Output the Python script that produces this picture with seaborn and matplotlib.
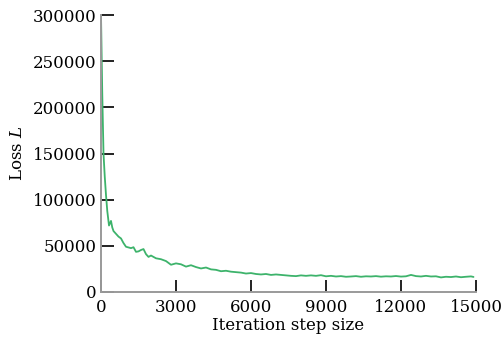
import numpy as np
import pandas as pd
import matplotlib
matplotlib.use("Agg")
import matplotlib.pyplot as plt
import seaborn as sns

# loss curve
steps = [0, 50, 100, 150, 200, 250, 320, 400, 450, 500, 600, 700, 800, 900,
         1000, 1200, 1300, 1400, 1500, 1600, 1700, 1800, 1900, 2000, 2200,
         2400, 2600, 2800, 3000, 3200, 3400, 3600, 3800, 4000, 4200, 4400,
         4600, 4800, 5000, 5200, 5400, 5600, 5800, 6000, 6200, 6400, 6600,
         6800, 7000, 7200, 7400, 7600, 7800, 8000, 8200, 8400, 8600, 8800,
         9000, 9200, 9400, 9600, 9800, 10000, 10200, 10400, 10600, 10800,
         11000, 11200, 11400, 11600, 11800, 12000, 12200, 12400, 12600,
         12800, 13000, 13200, 13400, 13600, 13800, 14000, 14200, 14400,
         14600, 14800, 14900]
loss = [300000, 215000, 150000, 125000, 105000, 88000, 72000, 77000, 70000,
        66000, 63000, 60000, 58000, 53000, 49000, 47500, 48500, 43500, 44000,
        45500, 46500, 41000, 38000, 39500, 36500, 35500, 33500, 29500, 31000,
        30000, 27500, 29000, 27000, 25500, 26500, 24500, 24000, 22500, 23000,
        22000, 21500, 21000, 20000, 20500, 19500, 19000, 19500, 18500, 19000,
        18500, 18000, 17500, 17200, 18000, 17500, 18000, 17500, 18200, 17000,
        17500, 16800, 17200, 16500, 16800, 17200, 16500, 17000, 16800, 17200,
        16600, 17000, 16800, 17300, 16700, 17000, 18500, 17200, 16800, 17500,
        16800, 17000, 15800, 16500, 16200, 16800, 16000, 16500, 16900, 16300]

xticks = [0, 3000, 6000, 9000, 12000, 15000]
yticks = [0, 50000, 100000, 150000, 200000, 250000, 300000]

df = pd.DataFrame({"step": steps, "loss": loss})

sns.set_style("white")
plt.rcParams["font.family"] = ["DejaVu Serif"]
plt.rcParams["mathtext.fontset"] = "dejavuserif"
plt.rcParams["text.color"] = "black"
plt.rcParams["axes.labelcolor"] = "black"

fig = plt.figure(figsize=(5.03, 3.41), dpi=100)
ax = fig.add_axes([0.2008, 0.1437, 0.7455, 0.8123])

sns.lineplot(data=df, x="step", y="loss", ax=ax, color="#3db36b", linewidth=1.3)

ax.set_xlim(0, 15000)
ax.set_ylim(0, 300000)
ax.set_xticks(xticks)
ax.set_yticks(yticks)
ax.set_xticklabels([str(t) for t in xticks])
ax.set_yticklabels([str(t) for t in yticks])
ax.tick_params(bottom=True, left=True, direction="in", length=9, width=1.3,
               color="#111111", labelcolor="black", labelsize=12)
ax.tick_params(axis="x", pad=5)
ax.tick_params(axis="y", pad=3)
ax.set_xlabel("Iteration step size", fontsize=12, labelpad=1)
ax.set_ylabel("Loss $L$", fontsize=12, labelpad=5)

for s in ["top", "right"]:
    ax.spines[s].set_visible(False)
for s in ["left", "bottom"]:
    ax.spines[s].set_color("#9a9a9a")
    ax.spines[s].set_linewidth(1.4)

fig.savefig("out.png", dpi=100)
